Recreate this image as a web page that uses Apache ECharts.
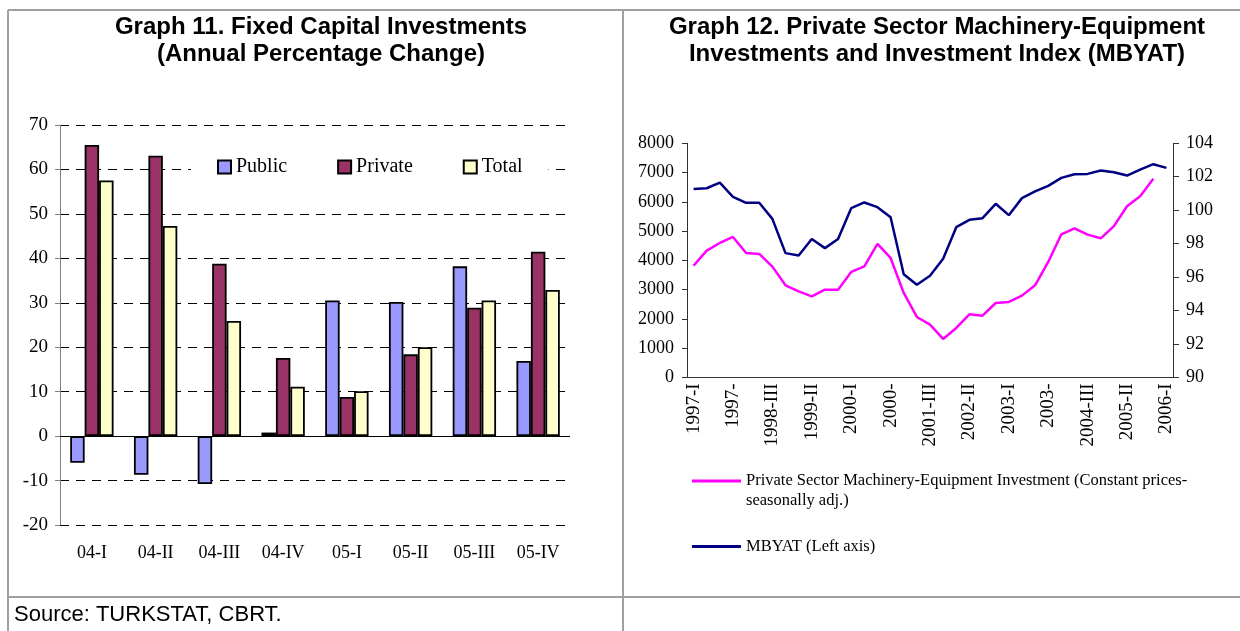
<!DOCTYPE html>
<html>
<head>
<meta charset="utf-8">
<script src="https://cdn.jsdelivr.net/npm/echarts@6/dist/echarts.min.js"></script>
<style>
  html, body { margin: 0; padding: 0; background: #fff; }
  #main { width: 1240px; height: 631px; }
</style>
</head>
<body>
<div id="main"></div>
<script>
// Graph 11 data
const quarters = ["04-I", "04-II", "04-III", "04-IV", "05-I", "05-II", "05-III", "05-IV"];
const publicInv = [-6.0, -8.7, -10.8, 0.8, 30.5, 30.2, 38.2, 16.9];
const privateInv = [65.5, 63.1, 38.8, 17.6, 8.8, 18.4, 28.9, 41.5];
const totalInv = [57.5, 47.3, 25.9, 11.1, 10.1, 20.0, 30.5, 32.9];

// Graph 12 data
const periods = [
  "1997-I", "1997-II", "1997-III", "1997-IV",
  "1998-I", "1998-II", "1998-III", "1998-IV",
  "1999-I", "1999-II", "1999-III", "1999-IV",
  "2000-I", "2000-II", "2000-III", "2000-IV",
  "2001-I", "2001-II", "2001-III", "2001-IV",
  "2002-I", "2002-II", "2002-III", "2002-IV",
  "2003-I", "2003-II", "2003-III", "2003-IV",
  "2004-I", "2004-II", "2004-III", "2004-IV",
  "2005-I", "2005-II", "2005-III", "2005-IV",
  "2006-I"
];
const machineryInv = [
  3818, 4330, 4593, 4798, 4251, 4217, 3783, 3145, 2940, 2769,
  2997, 2997, 3601, 3795, 4558, 4080, 2883, 2063, 1801, 1311,
  1687, 2154, 2108, 2541, 2575, 2792, 3145, 3943, 4889, 5094,
  4877, 4752, 5169, 5848, 6188, 6788, null
];
const mbyat = [
  101.27, 101.31, 101.65, 100.80, 100.44, 100.44, 99.48, 97.43, 97.29, 98.27,
  97.73, 98.27, 100.12, 100.46, 100.18, 99.58, 96.16, 95.54, 96.08, 97.09,
  98.98, 99.42, 99.52, 100.38, 99.70, 100.72, 101.12, 101.45, 101.93, 102.15,
  102.17, 102.37, 102.27, 102.07, 102.43, 102.75, 102.53
];

const serif = '"Times New Roman", "Liberation Serif", serif';
const sans = 'Arial, "Liberation Sans", sans-serif';
const border = '#a0a0a0';
const pinkName = 'Private Sector Machinery-Equipment Investment (Constant prices-\nseasonally adj.)';
const blueName = 'MBYAT (Left axis)';

const chart = echarts.init(document.getElementById('main'));

const titleStyle = { fontFamily: sans, fontWeight: 'bold', fontSize: 24, lineHeight: 27, color: '#000' };

const option = {
  animation: false,
  title: [
    {
      text: 'Graph 11. Fixed Capital Investments\n(Annual Percentage Change)',
      left: 316, top: 9, textAlign: 'center',
      textStyle: titleStyle
    },
    {
      text: 'Graph 12. Private Sector Machinery-Equipment\nInvestments and Investment Index (MBYAT)',
      left: 932, top: 9, textAlign: 'center',
      textStyle: titleStyle
    },
    {
      text: 'Source: TURKSTAT, CBRT.',
      left: 9, top: 599,
      textStyle: { fontFamily: sans, fontWeight: 'normal', fontSize: 22, color: '#000' }
    }
  ],
  legend: [
    {
      data: ['Public', 'Private', 'Total'],
      left: 191, top: 151,
      padding: [6, 26, 6, 26],
      backgroundColor: '#fff',
      icon: 'rect', itemWidth: 13, itemHeight: 13, itemGap: 50,
      textStyle: { fontFamily: serif, fontSize: 20, color: '#000' }
    },
    {
      data: [pinkName],
      left: 687, top: 446,
      icon: 'rect', itemWidth: 49, itemHeight: 3,
      formatter: name => '\n' + name,
      textStyle: { fontFamily: serif, fontSize: 16.5, lineHeight: 20, color: '#000' }
    },
    {
      data: [blueName],
      left: 687, top: 533,
      icon: 'rect', itemWidth: 49, itemHeight: 3,
      textStyle: { fontFamily: serif, fontSize: 16.5, color: '#000' }
    }
  ],
  grid: [
    { left: 60, top: 125, width: 510, height: 400 },
    { left: 687, top: 143.3, width: 486, height: 234 }
  ],
  xAxis: [
    {
      type: 'category', gridIndex: 0, data: quarters,
      axisLine: { show: false, onZero: false },
      axisTick: { show: false },
      axisLabel: { fontFamily: serif, fontSize: 18, color: '#000', margin: 19 }
    },
    {
      type: 'category', gridIndex: 1, data: periods,
      axisLine: { lineStyle: { color: '#333', width: 1 } },
      axisTick: { interval: 0, length: 5, lineStyle: { color: '#333' } },
      axisLabel: {
        interval: 2, rotate: 90, margin: 6,
        fontFamily: serif, fontSize: 19, color: '#000',
        formatter: v => v.replace(/IV$/, '')
      }
    }
  ],
  yAxis: [
    {
      type: 'value', gridIndex: 0, min: -20, max: 70, interval: 10,
      axisLine: { show: true, lineStyle: { color: '#808080' } },
      axisTick: { show: true, length: 5, lineStyle: { color: '#808080' } },
      axisLabel: { fontFamily: serif, fontSize: 19, color: '#000', margin: 12 },
      splitLine: { lineStyle: { color: '#000', type: [9, 7], width: 1 } }
    },
    {
      type: 'value', gridIndex: 1, min: 0, max: 8000, interval: 1000,
      axisLine: { show: true, lineStyle: { color: '#333' } },
      axisTick: { show: true, length: 5, lineStyle: { color: '#333' } },
      axisLabel: { fontFamily: serif, fontSize: 18, color: '#000', margin: 13, formatter: v => String(v) },
      splitLine: { show: false }
    },
    {
      type: 'value', gridIndex: 1, position: 'right', min: 90, max: 104, interval: 2,
      axisLine: { show: true, lineStyle: { color: '#333' } },
      axisTick: { show: true, length: 6, lineStyle: { color: '#333' } },
      axisLabel: { fontFamily: serif, fontSize: 18, color: '#000', margin: 13 },
      splitLine: { show: false }
    }
  ],
  series: [
    {
      name: 'Public', type: 'bar', xAxisIndex: 0, yAxisIndex: 0,
      data: publicInv,
      barGap: '0%', barCategoryGap: '32%',
      itemStyle: { color: '#9999ff', borderColor: '#000', borderWidth: 1.8 },
      markLine: {
        silent: true, symbol: ['none', 'none'],
        label: { show: false },
        lineStyle: { color: '#000', type: 'solid', width: 1 },
        data: [{ yAxis: 0 }]
      }
    },
    {
      name: 'Private', type: 'bar', xAxisIndex: 0, yAxisIndex: 0,
      data: privateInv,
      itemStyle: { color: '#993366', borderColor: '#000', borderWidth: 1.8 }
    },
    {
      name: 'Total', type: 'bar', xAxisIndex: 0, yAxisIndex: 0,
      data: totalInv,
      itemStyle: { color: '#ffffcc', borderColor: '#000', borderWidth: 1.8 }
    },
    {
      name: pinkName, type: 'line', xAxisIndex: 1, yAxisIndex: 1,
      data: machineryInv, symbol: 'none',
      itemStyle: { color: '#ff00ff' },
      lineStyle: { color: '#ff00ff', width: 2.5 }
    },
    {
      name: blueName, type: 'line', xAxisIndex: 1, yAxisIndex: 2,
      data: mbyat, symbol: 'none',
      itemStyle: { color: '#000080' },
      lineStyle: { color: '#000080', width: 2.5 }
    }
  ],
  graphic: [
    // table borders
    { type: 'line', shape: { x1: 8, y1: 10, x2: 1240, y2: 10 }, style: { stroke: border, lineWidth: 2 } },
    { type: 'line', shape: { x1: 8, y1: 10, x2: 8, y2: 631 }, style: { stroke: border, lineWidth: 2 } },
    { type: 'line', shape: { x1: 623, y1: 10, x2: 623, y2: 631 }, style: { stroke: border, lineWidth: 2 } },
    { type: 'line', shape: { x1: 8, y1: 597, x2: 1240, y2: 597 }, style: { stroke: border, lineWidth: 2 } }
  ]
};

chart.setOption(option);
</script>
</body>
</html>
